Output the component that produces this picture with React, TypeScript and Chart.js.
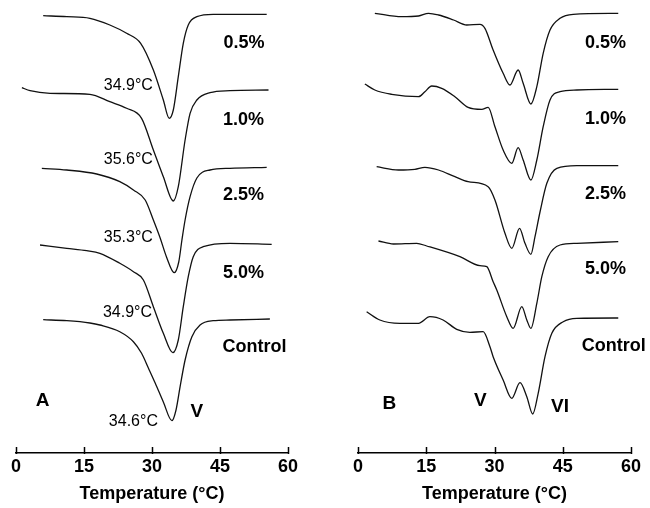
import React, { useEffect, useRef } from 'react';
import { Chart, registerables } from 'chart.js';

Chart.register(...registerables);

// ---------- Shared axis ----------
const xTicks = [0, 15, 30, 45, 60];
const xTitle = 'Temperature (°C)';

// ---------- Panel A (temperature °C, heat-flow value in arbitrary units) ----------
const aT05 = [6.0, 11.2, 16.3, 20.7, 24.4, 27.5, 30.3, 32.5, 33.8, 34.7, 35.8, 36.9, 38.0, 39.9, 43.5, 55.3];
const aV05 = [437.3, 436.3, 434.7, 428, 419.7, 409.7, 383, 353, 334.7, 343, 376.3, 409.7, 428, 436.3, 438.7, 438.7];

const aT10 = [1.3, 3.1, 7.5, 16.3, 20.7, 24.4, 27.7, 30.3, 32.5, 34.7, 35.8, 37.3, 38.4, 39.9, 42.8, 47.2, 55.7];
const aV10 = [365.3, 362.3, 359.7, 358.7, 351.3, 344.7, 334.7, 303, 276.3, 252, 266.3, 313, 339.7, 353, 360.3, 362.3, 363];

const aT25 = [5.7, 11.2, 17.8, 22.9, 25.9, 28.5, 30.3, 31.8, 33.2, 34.9, 35.9, 36.6, 37.3, 38.4, 39.9, 42.8, 47.2, 55.3];
const aV25 = [284.7, 283, 279, 271.3, 263, 253, 233, 215, 196, 180.3, 191, 213, 233, 256.3, 275, 283, 284.7, 285.7];

const aT50 = [5.3, 11.2, 15.6, 18.5, 22.9, 25.9, 28.1, 30.3, 32.5, 34.6, 35.8, 36.9, 38.0, 39.1, 41.3, 47.2, 56.4];
const aV50 = [208, 204.7, 202.3, 199.7, 189.7, 181.3, 173, 146.3, 119.7, 100.3, 113, 146.3, 176.3, 196.3, 206.3, 209.7, 208.7];

const aTCtl = [6.0, 11.2, 16.3, 18.5, 22.9, 25.9, 27.7, 29.2, 30.7, 32.5, 34.4, 35.3, 36.2, 37.3, 38.8, 40.6, 43.5, 47.2, 56.0];
const aVCtl = [133.3, 132.3, 130, 128, 121.3, 111.3, 99.7, 85, 70, 51, 32.3, 43, 66.3, 93, 116.3, 128, 132.3, 133, 134];

// ---------- Panel B ----------
const bT05 = [3.7, 9.6, 13.3, 15.5, 17.7, 21.0, 23.9, 26.8, 27.9, 29.7, 31.9, 33.4, 35.2, 36.3, 38.0, 39.3, 40.7, 42.2, 44.4, 47.3, 57.2];
const bV05 = [439.7, 436.3, 437, 439.7, 438, 433, 428, 428.7, 424.7, 403, 379.7, 368, 383, 369.7, 349, 366.3, 399.7, 423, 434.7, 438.7, 439.7];

const bT10 = [1.5, 3.7, 7.4, 13.3, 14.7, 16.2, 18.4, 21.3, 24.2, 27.2, 28.6, 30.1, 31.9, 33.8, 35.2, 36.3, 38.0, 39.3, 40.7, 42.2, 44.4, 48.1, 57.2];
const bV10 = [369, 363, 358.7, 356.3, 361.3, 367, 364.7, 356.3, 345.7, 343.7, 345.7, 326.3, 303, 289.7, 305.3, 293, 273, 293, 326.3, 353, 361.3, 363, 363.7];

const bT25 = [4.1, 8.9, 12.5, 14.7, 17.7, 21.3, 24.2, 28.6, 30.1, 32.3, 33.8, 35.5, 36.7, 38.0, 38.9, 40.0, 41.5, 43.7, 48.1, 57.2];
const bV25 = [286.3, 283, 283.7, 285.7, 283, 276.3, 271.3, 266.3, 253, 219.7, 204.7, 224.7, 209.7, 198.7, 216.3, 241, 269.7, 284.7, 287.3, 287.3];

const bT50 = [4.5, 7.8, 12.9, 15.1, 22.4, 26.8, 28.3, 29.7, 30.5, 32.7, 34.1, 36.0, 37.1, 38.0, 39.3, 40.4, 41.8, 44.4, 48.1, 57.2];
const bV50 = [212, 209, 209.7, 207, 196.3, 187.3, 186.3, 171.3, 163, 136.3, 124.7, 146.3, 133, 124.7, 149.7, 176.3, 196.3, 208, 209.7, 211.3];

const bTCtl = [1.9, 4.8, 9.2, 13.3, 15.8, 18.7, 21.7, 24.6, 27.5, 29.0, 29.7, 31.9, 33.8, 35.6, 37.1, 38.4, 39.6, 41.1, 42.6, 45.1, 48.1, 57.2];
const bVCtl = [141.3, 133, 129.7, 129.7, 136.3, 133, 123.7, 120.7, 121.3, 106.3, 96.3, 73, 54.7, 70.3, 56.3, 39, 59.7, 96.3, 119.7, 131.3, 134.7, 135];

// ---------- Annotations (text, position in data units) ----------
const concLabels = ['0.5%', '1.0%', '2.5%', '5.0%', 'Control'];
const aConcX = [50.3, 50.2, 50.2, 50.2, 52.6];
const aConcY = [410, 333, 258, 180, 106];
const bConcX = [54.4, 54.4, 54.4, 54.4, 49.2];
const bConcY = [410, 334, 259, 184, 107];

const aPeakLabels = ['34.9°C', '35.6°C', '35.3°C', '34.9°C'];
const aPeakX = [30.2, 30.2, 30.2, 30.0];
const aPeakY = [367, 293, 215, 140];
const aCtlPeakLabel = '34.6°C';
const aCtlPeakX = 25.9;
const aCtlPeakY = 31;

const aMarks = ['A', 'V'];
const aMarkX = [5.85, 39.9];
const aMarkY = [52.5, 41.5];
const bMarks = ['B', 'V', 'VI'];
const bMarkX = [6.9, 26.9, 44.4];
const bMarkY = [49.5, 52.5, 46.5];

const FAMILY = '"Liberation Sans", Arial, Helvetica, sans-serif';

type Ann = { text: string; x: number; y: number; font: string; align: CanvasTextAlign };

function annotationPlugin(items: Ann[]) {
  return {
    id: 'annots',
    afterDraw(chart: any) {
      const { ctx, scales, chartArea } = chart;
      ctx.save();
      ctx.fillStyle = '#000';
      ctx.textBaseline = 'middle';
      for (const it of items) {
        ctx.font = it.font;
        ctx.textAlign = it.align;
        ctx.fillText(it.text, scales.x.getPixelForValue(it.x), scales.y.getPixelForValue(it.y));
      }
      // inward tick marks
      ctx.strokeStyle = '#000';
      ctx.lineWidth = 1.5;
      for (const v of xTicks) {
        const px = Math.round(scales.x.getPixelForValue(v)) + 0.5;
        ctx.beginPath();
        ctx.moveTo(px, chartArea.bottom + 1);
        ctx.lineTo(px, chartArea.bottom - 6);
        ctx.stroke();
      }
      ctx.restore();
    },
  };
}

function makeChart(
  canvas: HTMLCanvasElement,
  series: { t: number[]; v: number[] }[],
  anns: Ann[],
  padLeft: number,
  padRight: number
) {
  return new Chart(canvas, {
    type: 'line',
    data: {
      datasets: series.map((s) => ({
        data: s.t.map((t, i) => ({ x: t, y: s.v[i] })),
        borderColor: '#111',
        borderWidth: 1.3,
        pointRadius: 0,
        fill: false,
        cubicInterpolationMode: 'monotone' as const,
      })),
    },
    options: {
      responsive: false,
      animation: false,
      layout: { padding: { left: padLeft, right: padRight, top: 5, bottom: 0 } },
      plugins: { legend: { display: false }, tooltip: { enabled: false } },
      scales: {
        x: {
          type: 'linear',
          min: 0,
          max: 60,
          ticks: {
            stepSize: 15,
            color: '#000',
            font: { family: FAMILY, size: 18, weight: 'bold' },
            padding: 3,
            maxRotation: 0,
            autoSkip: false,
          },
          grid: { display: false, drawTicks: false },
          border: { display: true, color: '#000', width: 1.5 },
          title: {
            display: true,
            text: xTitle,
            color: '#000',
            font: { family: FAMILY, size: 18, weight: 'bold' },
            padding: { top: 0, bottom: 3 },
          },
          afterFit: (scale: any) => {
            scale.height = 55;
          },
        },
        y: { display: false, min: 0, max: 448 },
      },
    } as any,
    plugins: [annotationPlugin(anns)],
  });
}

const BOLD = `bold 18px ${FAMILY}`;
const MARK = `bold 19px ${FAMILY}`;
const SMALL = `16px ${FAMILY}`;

export default function App() {
  const refA = useRef<HTMLCanvasElement>(null);
  const refB = useRef<HTMLCanvasElement>(null);

  useEffect(() => {
    const annA: Ann[] = [
      ...concLabels.map((t, i) => ({ text: t, x: aConcX[i], y: aConcY[i], font: BOLD, align: 'center' as CanvasTextAlign })),
      ...aPeakLabels.map((t, i) => ({ text: t, x: aPeakX[i], y: aPeakY[i], font: SMALL, align: 'right' as CanvasTextAlign })),
      { text: aCtlPeakLabel, x: aCtlPeakX, y: aCtlPeakY, font: SMALL, align: 'center' },
      ...aMarks.map((t, i) => ({ text: t, x: aMarkX[i], y: aMarkY[i], font: MARK, align: 'center' as CanvasTextAlign })),
    ];
    const annB: Ann[] = [
      ...concLabels.map((t, i) => ({
        text: t,
        x: bConcX[i],
        y: bConcY[i],
        font: BOLD,
        align: (i === 4 ? 'left' : 'center') as CanvasTextAlign,
      })),
      ...bMarks.map((t, i) => ({ text: t, x: bMarkX[i], y: bMarkY[i], font: MARK, align: 'center' as CanvasTextAlign })),
    ];
    const seriesA = [
      { t: aT05, v: aV05 },
      { t: aT10, v: aV10 },
      { t: aT25, v: aV25 },
      { t: aT50, v: aV50 },
      { t: aTCtl, v: aVCtl },
    ];
    const seriesB = [
      { t: bT05, v: bV05 },
      { t: bT10, v: bV10 },
      { t: bT25, v: bV25 },
      { t: bT50, v: bV50 },
      { t: bTCtl, v: bVCtl },
    ];
    const cA = makeChart(refA.current!, seriesA, annA, 16, 37);
    const cB = makeChart(refB.current!, seriesB, annB, 33, 19);
    return () => {
      cA.destroy();
      cB.destroy();
    };
  }, []);

  return (
    <div style={{ position: 'absolute', left: 0, top: 0, width: 650, height: 508, display: 'flex', background: '#fff' }}>
      <canvas ref={refA} width={325} height={508} style={{ width: 325, height: 508, display: 'block' }} />
      <canvas ref={refB} width={325} height={508} style={{ width: 325, height: 508, display: 'block' }} />
    </div>
  );
}
